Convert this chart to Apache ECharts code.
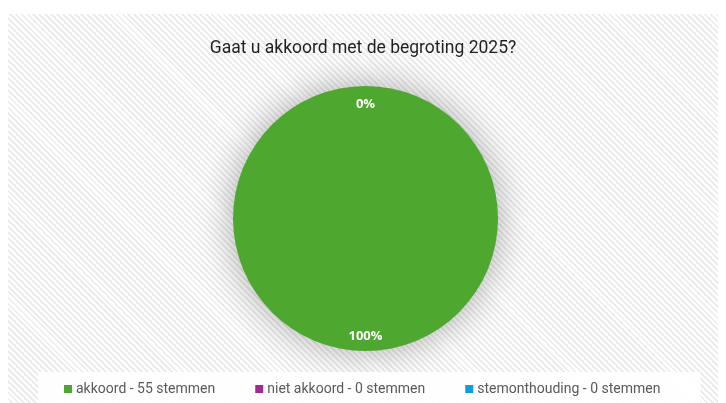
<!DOCTYPE html>
<html>
<head>
<meta charset="utf-8">
<script src="https://cdn.jsdelivr.net/npm/echarts@6/dist/echarts.min.js"></script>
<style>
  html, body { margin: 0; padding: 0; background: #ffffff; }
  #wrap { position: relative; width: 726px; height: 403px; overflow: hidden; background: #fff; }
  #bg { position: absolute; left: 8px; top: 14px; width: 710px; height: 389px;
        background: repeating-linear-gradient(45deg, #ffffff 0px, #ffffff 2.2px, #ececec 2.2px, #ececec 4.2px); }
  #chart { position: absolute; left: 0; top: 0; width: 726px; height: 403px; }
</style>
</head>
<body>
<div id="wrap"><div id="bg"></div><div id="chart"></div></div>
<script>
const titleText = 'Gaat u akkoord met de begroting 2025?';
const categories = ['akkoord - 55 stemmen', 'niet akkoord - 0 stemmen', 'stemonthouding - 0 stemmen'];
const values = [55, 0, 0];
const colors = ['#4ea72e', '#a02b93', '#0f9ed5'];

const font = '"Roboto", sans-serif';
const data = categories.map((c, i) => ({ name: c, value: values[i], itemStyle: { color: colors[i] } }));

const chart = echarts.init(document.getElementById('chart'), null, { renderer: 'canvas' });
chart.setOption({
  backgroundColor: 'transparent',
  animation: false,
  title: {
    text: titleText, left: 'center', top: 35,
    textStyle: { fontFamily: font, fontSize: 17.5, fontWeight: 'normal', color: '#1f1f1f' }
  },
  legend: {
    data: categories,
    left: 38, bottom: 0,
    padding: [10, 40, 7, 26],
    backgroundColor: 'rgba(255,255,255,0.92)',
    itemWidth: 8, itemHeight: 8, itemGap: 40, icon: 'rect',
    textStyle: { fontFamily: font, fontSize: 14, color: '#595959', padding: [0, 0, 0, -1] }
  },
  series: [
    {
      type: 'pie', center: [365.5, 218.5], radius: [0, 132.5],
      startAngle: 90, clockwise: true, silent: true,
      label: { show: false }, labelLine: { show: false },
      itemStyle: { shadowBlur: 36, shadowColor: 'rgba(0,0,0,0.32)' },
      data: data
    },
    {
      type: 'pie', center: [365.5, 218.5], radius: [98, 132.5],
      startAngle: 90, clockwise: true, silent: true,
      itemStyle: { color: 'rgba(0,0,0,0)' },
      label: {
        show: true, position: 'inside', color: '#ffffff', fontWeight: 'bold',
        fontFamily: '"Open Sans", sans-serif', fontSize: 13,
        formatter: p => Math.round(p.percent) + '%'
      },
      labelLine: { show: false },
      data: categories.map((c, i) => ({
        name: c, value: values[i], itemStyle: { color: 'rgba(0,0,0,0)' },
        label: values[i] === 0 ? { offset: [0, 4] } : {}
      }))
    }
  ]
});
</script>
</body>
</html>
